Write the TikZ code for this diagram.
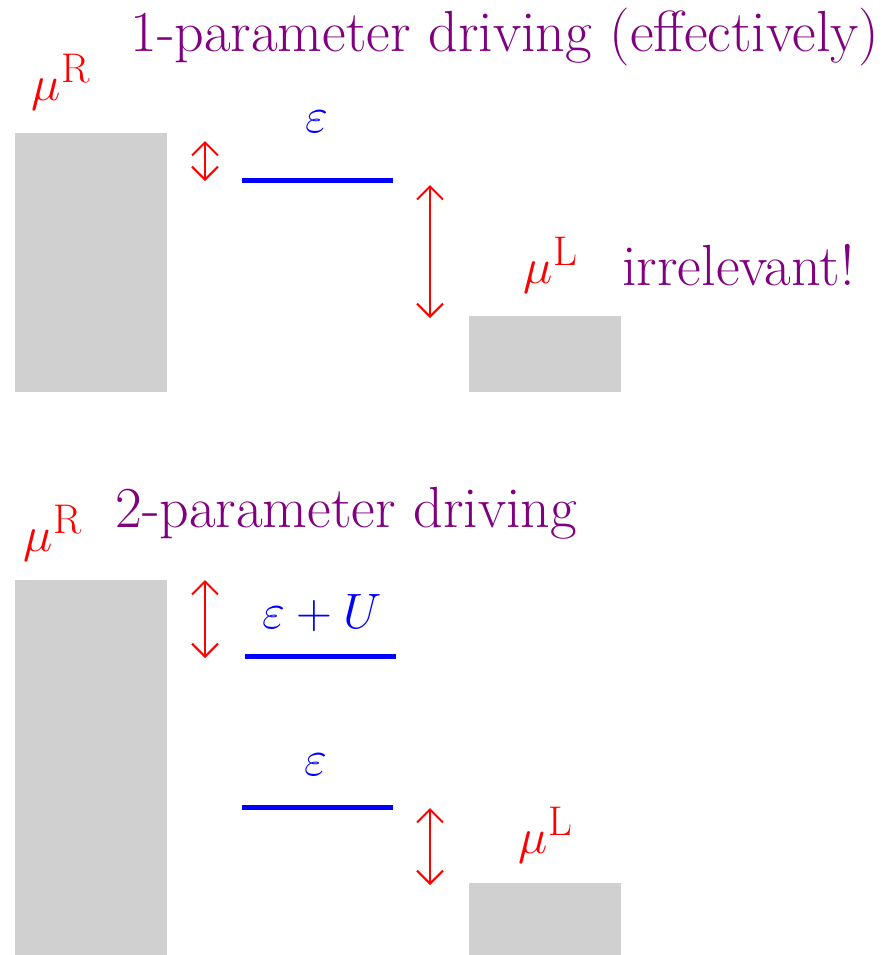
\documentclass[tikz,border=0pt]{standalone}
\usetikzlibrary{arrows.meta}
\definecolor{boxgray}{RGB}{208,208,208}
\definecolor{titlepurple}{RGB}{128,0,128}
\begin{document}
\begin{tikzpicture}[x=0.5pt,y=-0.5pt,
  reservoir/.style={fill=boxgray,draw=none},
  level/.style={draw=blue,line width=2.5pt},
  gap/.style={draw=red,line width=1pt,{Straight Barb[length=6.5pt,width=13pt]}-{Straight Barb[length=6.5pt,width=13pt]}},
  lbl/.style={font=\fontsize{28}{32}\selectfont},
  title/.style={text=titlepurple,font=\fontsize{29}{34}\selectfont,inner sep=0pt,anchor=base west}]
\useasboundingbox (0,0) rectangle (886,955);
% top panel
\fill[reservoir] (15,133) rectangle (167,392);
\fill[reservoir] (469,316) rectangle (621,392);
\node[title] (t1) at (130,51) {1-parameter driving (effectively)};
\node[lbl,text=red] (muR1) at (61,82) {$\mu^{\mathrm{R}}$};
\node[lbl,text=red] (muL1) at (551,265) {$\mu^{\mathrm{L}}$};
\node[title] (irr) at (622,285) {irrelevant!};
\coordinate (e1a) at (242,180);
\coordinate (e1b) at (393,180);
\draw[level] (e1a) -- (e1b);
\node[lbl,text=blue] (eps1) at (317,122) {$\varepsilon$};
\coordinate (a1t) at (205,141);
\coordinate (a1b) at (205,181);
\draw[gap] (a1t) -- (a1b);
\coordinate (a2t) at (430,185);
\coordinate (a2b) at (430,318);
\draw[gap] (a2t) -- (a2b);
% bottom panel
\fill[reservoir] (15,580) rectangle (167,955);
\fill[reservoir] (469,883) rectangle (621,955);
\node[title] (t2) at (115,527) {2-parameter driving};
\node[lbl,text=red] (muR2) at (53,533) {$\mu^{\mathrm{R}}$};
\node[lbl,text=red] (muL2) at (546,835) {$\mu^{\mathrm{L}}$};
\coordinate (e2a) at (245,656);
\coordinate (e2b) at (396,656);
\draw[level] (e2a) -- (e2b);
\node[lbl,text=blue] (epsU) at (322,613) {$\varepsilon+U$};
\coordinate (e3a) at (242,807);
\coordinate (e3b) at (393,807);
\draw[level] (e3a) -- (e3b);
\node[lbl,text=blue] (eps2) at (316,765) {$\varepsilon$};
\coordinate (a3t) at (205,580);
\coordinate (a3b) at (205,658);
\draw[gap] (a3t) -- (a3b);
\coordinate (a4t) at (430,808);
\coordinate (a4b) at (430,885);
\draw[gap] (a4t) -- (a4b);
\end{tikzpicture}
\end{document}
